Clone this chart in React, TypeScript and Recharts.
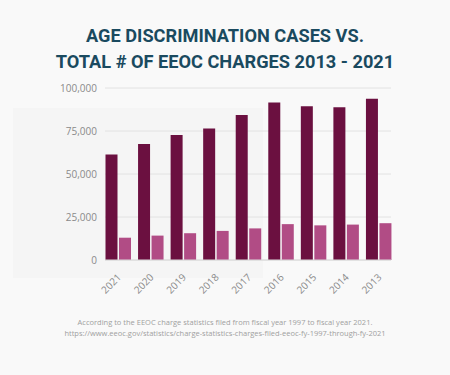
import React from "react";
import { BarChart, Bar, XAxis, YAxis, CartesianGrid } from "recharts";

const years = ["2021", "2020", "2019", "2018", "2017", "2016", "2015", "2014", "2013"];
const totalCharges = [61331, 67448, 72675, 76418, 84254, 91503, 89385, 88778, 93727];
const ageCharges = [12965, 14183, 15573, 16911, 18376, 20857, 20144, 20588, 21396];
const yTicks = [0, 25000, 50000, 75000, 100000];

const data = years.map((year, i) => ({
  year,
  total: totalCharges[i],
  age: ageCharges[i],
}));

const AngledTick = (props: any) => {
  const { x, y, payload } = props;
  const tx = x + 4;
  const ty = y + 10;
  return (
    <text
      x={tx}
      y={ty}
      transform={`rotate(-45, ${tx}, ${ty})`}
      textAnchor="end"
      fontSize={10}
      fill="#8a8a8a"
      fontFamily="'Open Sans', sans-serif"
    >
      {payload.value}
    </text>
  );
};

export default function App() {
  return (
    <div
      style={{
        position: "absolute",
        left: 0,
        top: 0,
        width: 450,
        height: 375,
        background: "#f9f9f9",
        overflow: "hidden",
        fontFamily: "'Open Sans', sans-serif",
      }}
    >
      <div
        style={{
          position: "absolute",
          left: 13,
          top: 108,
          width: 250,
          height: 170,
          background: "#f5f5f5",
        }}
      />
      <div
        style={{
          position: "absolute",
          top: 23,
          width: 450,
          textAlign: "center",
          fontFamily: "Roboto, sans-serif",
          fontWeight: 700,
          fontSize: 18.2,
          lineHeight: "26px",
          color: "#1a4a5f",
        }}
      >
        AGE DISCRIMINATION CASES VS.
        <br />
        TOTAL # OF EEOC CHARGES 2013 - 2021
      </div>
      <div style={{ position: "absolute", left: 0, top: 0 }}>
        <BarChart
          width={450}
          height={300}
          data={data}
          margin={{ top: 88, right: 59, left: 0, bottom: 0 }}
          barSize={12}
          barGap={1.5}
        >
          <CartesianGrid horizontal vertical={false} stroke="#e2e2e2" />
          <XAxis
            dataKey="year"
            height={40}
            tickLine={false}
            axisLine={{ stroke: "#d8d8d8" }}
            interval={0}
            padding={{ left: -3.5, right: -3.5 }}
            tick={<AngledTick />}
          />
          <YAxis
            width={105}
            domain={[0, 100000]}
            ticks={yTicks}
            tickLine={false}
            axisLine={false}
            tickFormatter={(v: number) => v.toLocaleString("en-US")}
            tick={{ fontSize: 10, fill: "#8a8a8a", fontFamily: "'Open Sans', sans-serif" }}
          />
          <Bar dataKey="total" fill="#6b1040" isAnimationActive={false} />
          <Bar dataKey="age" fill="#b14c85" isAnimationActive={false} />
        </BarChart>
      </div>
      <div
        style={{
          position: "absolute",
          top: 317,
          width: 450,
          textAlign: "center",
          fontSize: 7.5,
          lineHeight: "11px",
          color: "#a0a0a0",
        }}
      >
        According to the EEOC charge statistics filed from fiscal year 1997 to fiscal year 2021.
        <br />
        https://www.eeoc.gov/statistics/charge-statistics-charges-filed-eeoc-fy-1997-through-fy-2021
      </div>
    </div>
  );
}
